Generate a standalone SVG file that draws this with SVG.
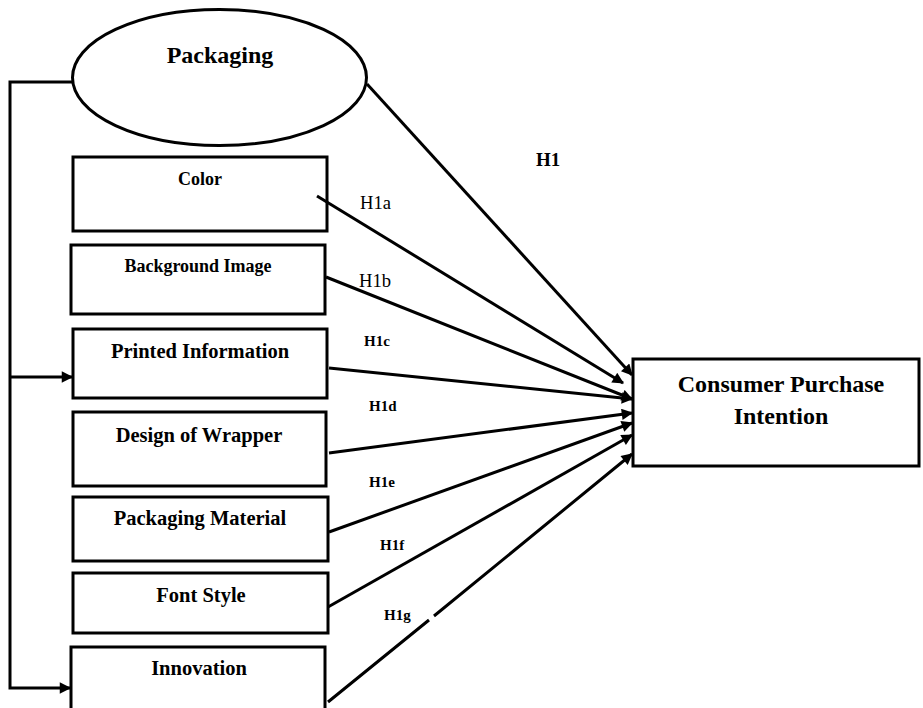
<svg xmlns="http://www.w3.org/2000/svg" width="923" height="708" viewBox="0 0 923 708">
<style>
.box{fill:#fff;stroke:#000;stroke-width:3}
.lbl{font-family:"Liberation Serif",serif;font-weight:bold;fill:#000;text-anchor:middle}
.hyp{font-family:"Liberation Serif",serif;fill:#000}
.conn{fill:none;stroke:#000;stroke-width:3}
</style>
<defs>
<marker id="ah" viewBox="0 0 10 10" refX="9" refY="5" markerWidth="4.2" markerHeight="3.8" orient="auto" markerUnits="strokeWidth">
<path d="M0,0 L10,5 L0,10 z" fill="#000"/>
</marker>
</defs>
<rect width="923" height="708" fill="#fff"/>
<g id="packaging">
<ellipse class="box" cx="219.5" cy="77.5" rx="147" ry="68"/>
<text class="lbl" x="220" y="63" font-size="24">Packaging</text>
</g>
<g id="color">
<rect class="box" x="73" y="157" width="254" height="74"/>
<text class="lbl" x="200" y="185" font-size="18">Color</text>
</g>
<g id="background-image">
<rect class="box" x="71" y="245" width="254" height="69"/>
<text class="lbl" x="198" y="272" font-size="18">Background Image</text>
</g>
<g id="printed-information">
<rect class="box" x="73" y="329" width="254" height="69"/>
<text class="lbl" x="200" y="358" font-size="20.5">Printed Information</text>
</g>
<g id="design-of-wrapper">
<rect class="box" x="73" y="412" width="253" height="74"/>
<text class="lbl" x="199" y="442" font-size="20.5">Design of Wrapper</text>
</g>
<g id="packaging-material">
<rect class="box" x="73" y="497" width="255" height="64"/>
<text class="lbl" x="200" y="525" font-size="20.5">Packaging Material</text>
</g>
<g id="font-style">
<rect class="box" x="73" y="573" width="255" height="60"/>
<text class="lbl" x="201" y="602" font-size="20.5">Font Style</text>
</g>
<g id="innovation">
<rect class="box" x="71" y="647" width="254" height="70"/>
<text class="lbl" x="199" y="675" font-size="20.5">Innovation</text>
</g>
<g id="consumer-purchase-intention">
<rect class="box" x="633" y="359" width="286" height="107"/>
<text class="lbl" x="781" y="392" font-size="24">Consumer Purchase</text>
<text class="lbl" x="781" y="424" font-size="24">Intention</text>
</g>
<g id="connectors">
<path class="conn" d="M72,82 H10 V688 H70" marker-end="url(#ah)"/>
<path class="conn" d="M10,377 H72" marker-end="url(#ah)"/>
<path class="conn" d="M367,84 L632,375" marker-end="url(#ah)"/>
<path class="conn" d="M317,196 L623,383" marker-end="url(#ah)"/>
<path class="conn" d="M326,277 L632,399" marker-end="url(#ah)"/>
<path class="conn" d="M329,368 L632,399" marker-end="url(#ah)"/>
<path class="conn" d="M329,453 L632,413" marker-end="url(#ah)"/>
<path class="conn" d="M329,532 L632,423" marker-end="url(#ah)"/>
<path class="conn" d="M328,607 L632,435" marker-end="url(#ah)"/>
<path class="conn" d="M328,702 L429,620 M434,616 L632,454" marker-end="url(#ah)"/>
</g>
<g id="labels">
<text class="hyp" x="536" y="166" font-size="19" font-weight="bold">H1</text>
<text class="hyp" x="360" y="209" font-size="18.6" fill="#222">H1a</text>
<text class="hyp" x="359" y="287" font-size="18.6" fill="#222">H1b</text>
<text class="hyp" x="364" y="346" font-size="15" font-weight="bold">H1c</text>
<text class="hyp" x="369" y="411" font-size="15" font-weight="bold">H1d</text>
<text class="hyp" x="369" y="487" font-size="15" font-weight="bold">H1e</text>
<text class="hyp" x="380" y="550" font-size="15" font-weight="bold">H1f</text>
<text class="hyp" x="384" y="620" font-size="15" font-weight="bold">H1g</text>
</g>
</svg>
